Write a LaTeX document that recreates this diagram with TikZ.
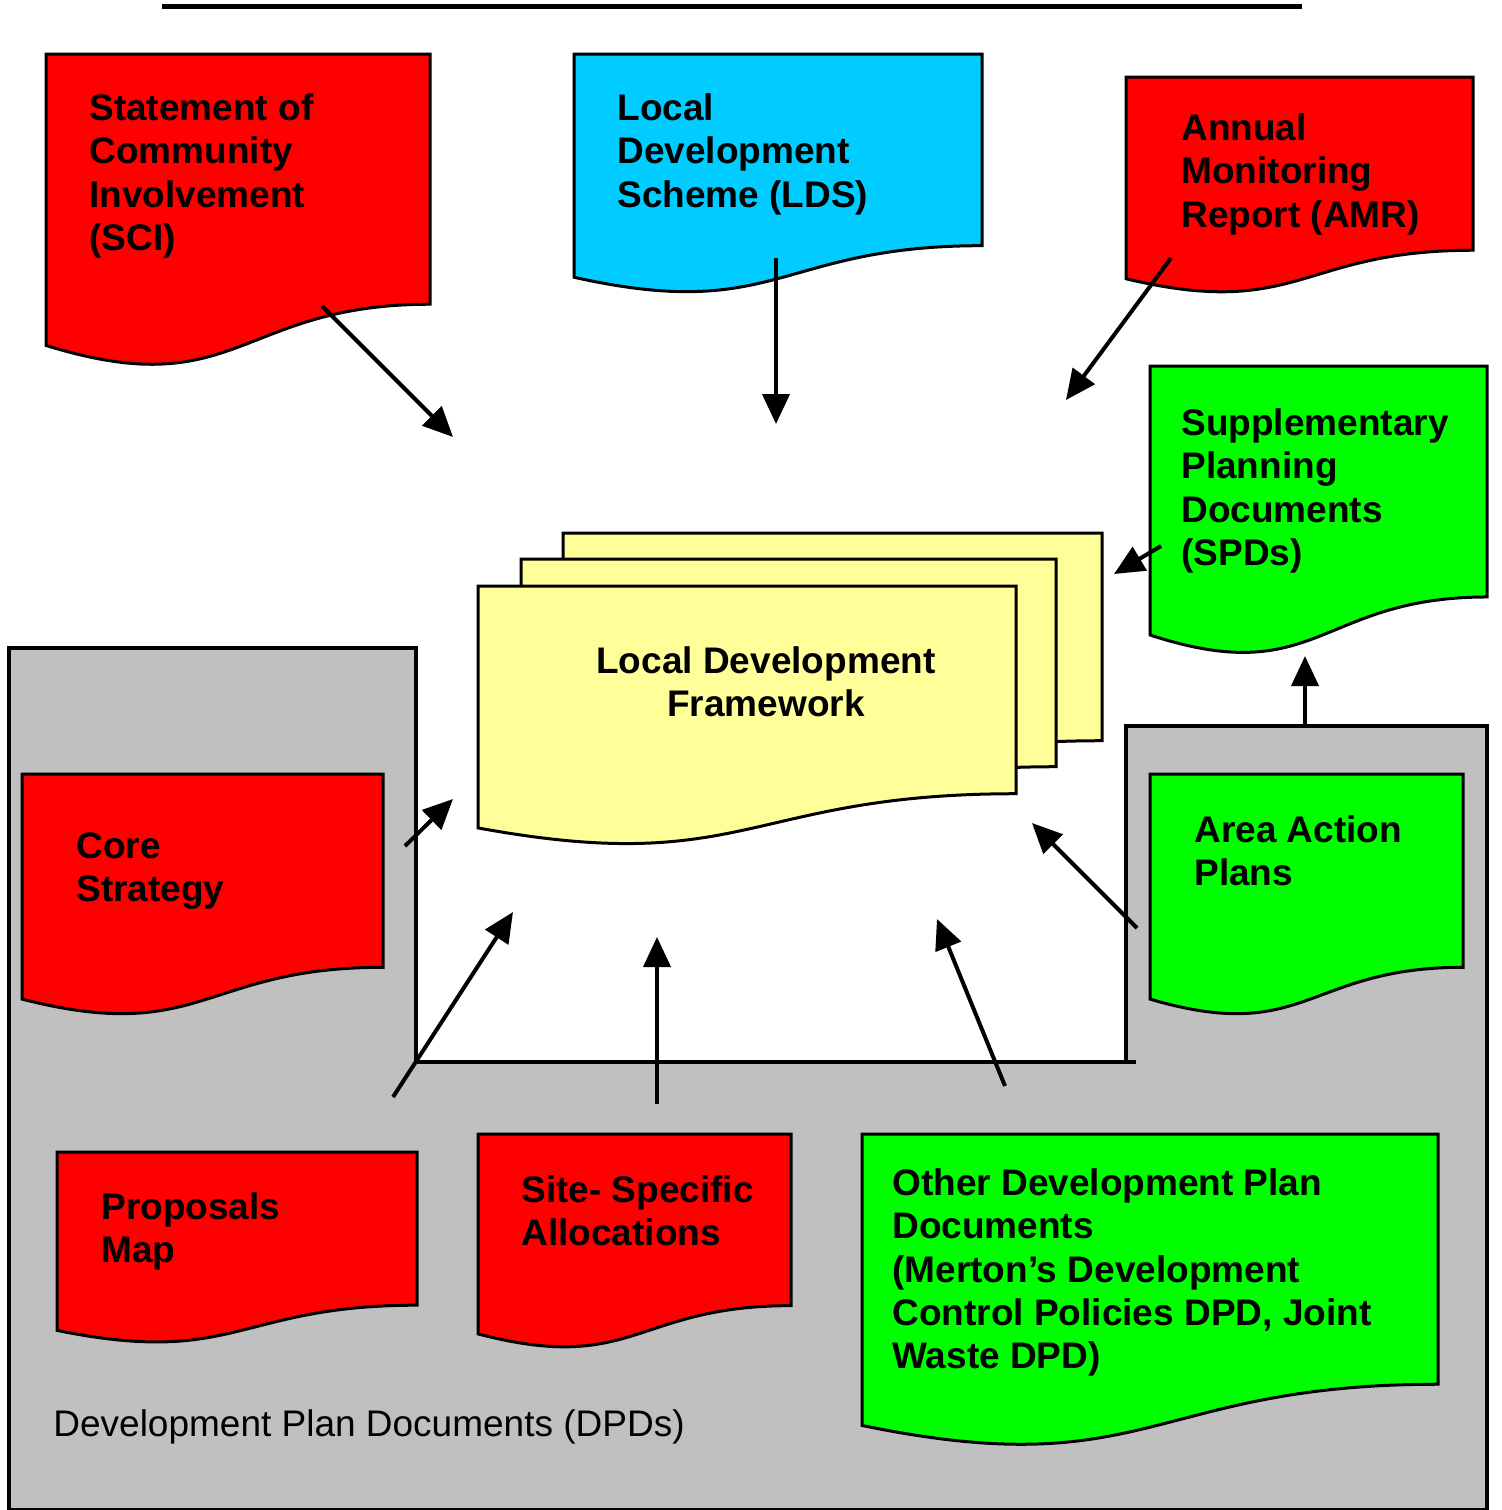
\documentclass[tikz,border=0pt]{standalone}
\usepackage{fontspec}
\setmainfont{Liberation Sans}
\usetikzlibrary{arrows.meta, positioning, calc}
\definecolor{docred}{HTML}{FF0000}
\definecolor{doccyan}{HTML}{00CCFF}
\definecolor{docgreen}{HTML}{00FF00}
\definecolor{docyellow}{HTML}{FFFF99}
\definecolor{zonegray}{HTML}{C0C0C0}
\tikzset{
	docline/.style={draw=black, line width=1.5pt, line join=miter},
	doctext/.style={anchor=north west, inner sep=0pt, align=left, font=\bfseries\fontsize{18.5}{21.7}\selectfont},
	zone/.style={draw=black, fill=zonegray, line width=2pt},
	feed_arrow/.style={-{Triangle[length=15pt, width=13.5pt]}, line width=2pt},
	zone_label/.style={anchor=north west, inner sep=0pt, font=\fontsize{18.5}{22}\selectfont}
}
% sheet with a wavy lower edge: name, x, y, width, height, fill
\newcommand{\docsheet}[6]{%
	\draw[docline, fill=#6] (#2,#3) -- (#2+#4,#3) -- (#2+#4,#3+0.802*#5)
		.. controls (#2+0.5*#4,#3+0.802*#5) and (#2+0.5*#4,#3+1.125*#5) .. (#2,#3+0.934*#5) -- cycle;
	\coordinate (#1) at (#2,#3);
}
\begin{document}
\begin{tikzpicture}[x=0.5pt, y=-0.5pt]
	\useasboundingbox (0,0) rectangle (1502,1510);
	% rule at the top
	\coordinate (rule_l) at (162,6);
	\coordinate (rule_r) at (1302,6);
	\draw[line width=2.5pt] (rule_l) -- (rule_r);
	% DPD zone
	\draw[zone] (9,648) -- (416,648) -- (416,1062) -- (1126,1062) -- (1126,726)
		-- (1487,726) -- (1487,1510) -- (9,1510) -- cycle;
	\coordinate (zone_corner) at (1126,1062);
	\draw[line width=2pt] (zone_corner) -- +(10,0);
	\node[zone_label] (dpd_label) at (53,1409) {Development Plan Documents (DPDs)};
	% documents
	\docsheet{sci}{46}{54}{384}{312}{docred}
	\docsheet{lds}{574}{54}{408}{239}{doccyan}
	\docsheet{amr}{1126}{77}{347}{216}{docred}
	\docsheet{spd}{1150}{366}{337}{288}{docgreen}
	\docsheet{ldf_back}{563}{533}{539}{259}{docyellow}
	\docsheet{ldf_mid}{521}{559}{535}{259}{docyellow}
	\docsheet{ldf}{478}{586}{538}{259}{docyellow}
	\docsheet{core}{22}{774}{361}{241}{docred}
	\docsheet{aap}{1150}{774}{313}{241}{docgreen}
	\docsheet{prop}{57}{1152}{360}{191}{docred}
	\docsheet{site}{478}{1134}{313}{214}{docred}
	\docsheet{other}{862}{1134}{576}{312}{docgreen}
	% labels
	\node[doctext] (sci_txt) at (89,93) {Statement of\\Community\\Involvement\\(SCI)};
	\node[doctext] (lds_txt) at (617,93) {Local\\Development\\Scheme (LDS)};
	\node[doctext] (amr_txt) at (1181,113) {Annual\\Monitoring\\Report (AMR)};
	\node[doctext] (spd_txt) at (1181,408) {Supplementary\\Planning\\Documents\\(SPDs)};
	\node[doctext, anchor=north, align=center] (ldf_txt) at (766,646) {Local Development\\Framework};
	\node[doctext] (core_txt) at (76,832) {Core\\Strategy};
	\node[doctext] (aap_txt) at (1194,815) {Area Action\\Plans};
	\node[doctext] (prop_txt) at (101,1192) {Proposals\\Map};
	\node[doctext] (site_txt) at (521,1175) {Site- Specific\\Allocations};
	\node[doctext] (other_txt) at (892,1168) {Other Development Plan\\Documents\\(Merton’s Development\\Control Policies DPD, Joint\\Waste DPD)};
	% arrow ends
	\coordinate (sci_out) at (322,306);   \coordinate (sci_in) at (453,437);
	\coordinate (lds_out) at (776,258);   \coordinate (lds_in) at (776,424);
	\coordinate (amr_out) at (1171,258);  \coordinate (amr_in) at (1066,400);
	\coordinate (spd_out) at (1161,546);  \coordinate (spd_in) at (1114,574);
	\coordinate (aap_up) at (1305,724);   \coordinate (spd_foot) at (1305,656);
	\coordinate (core_out) at (405,846);  \coordinate (core_in) at (453,799);
	\coordinate (prop_out) at (393,1097); \coordinate (prop_in) at (513,912);
	\coordinate (site_out) at (657,1104); \coordinate (site_in) at (657,937);
	\coordinate (other_out) at (1005,1086); \coordinate (other_in) at (937,919);
	\coordinate (aap_out) at (1137,928);  \coordinate (aap_in) at (1032,823);
	\foreach \a/\b in {sci_out/sci_in, lds_out/lds_in, amr_out/amr_in, spd_out/spd_in,
		aap_up/spd_foot, core_out/core_in, prop_out/prop_in, site_out/site_in,
		other_out/other_in, aap_out/aap_in}
		\draw[feed_arrow] (\a) -- (\b);
\end{tikzpicture}
\end{document}
